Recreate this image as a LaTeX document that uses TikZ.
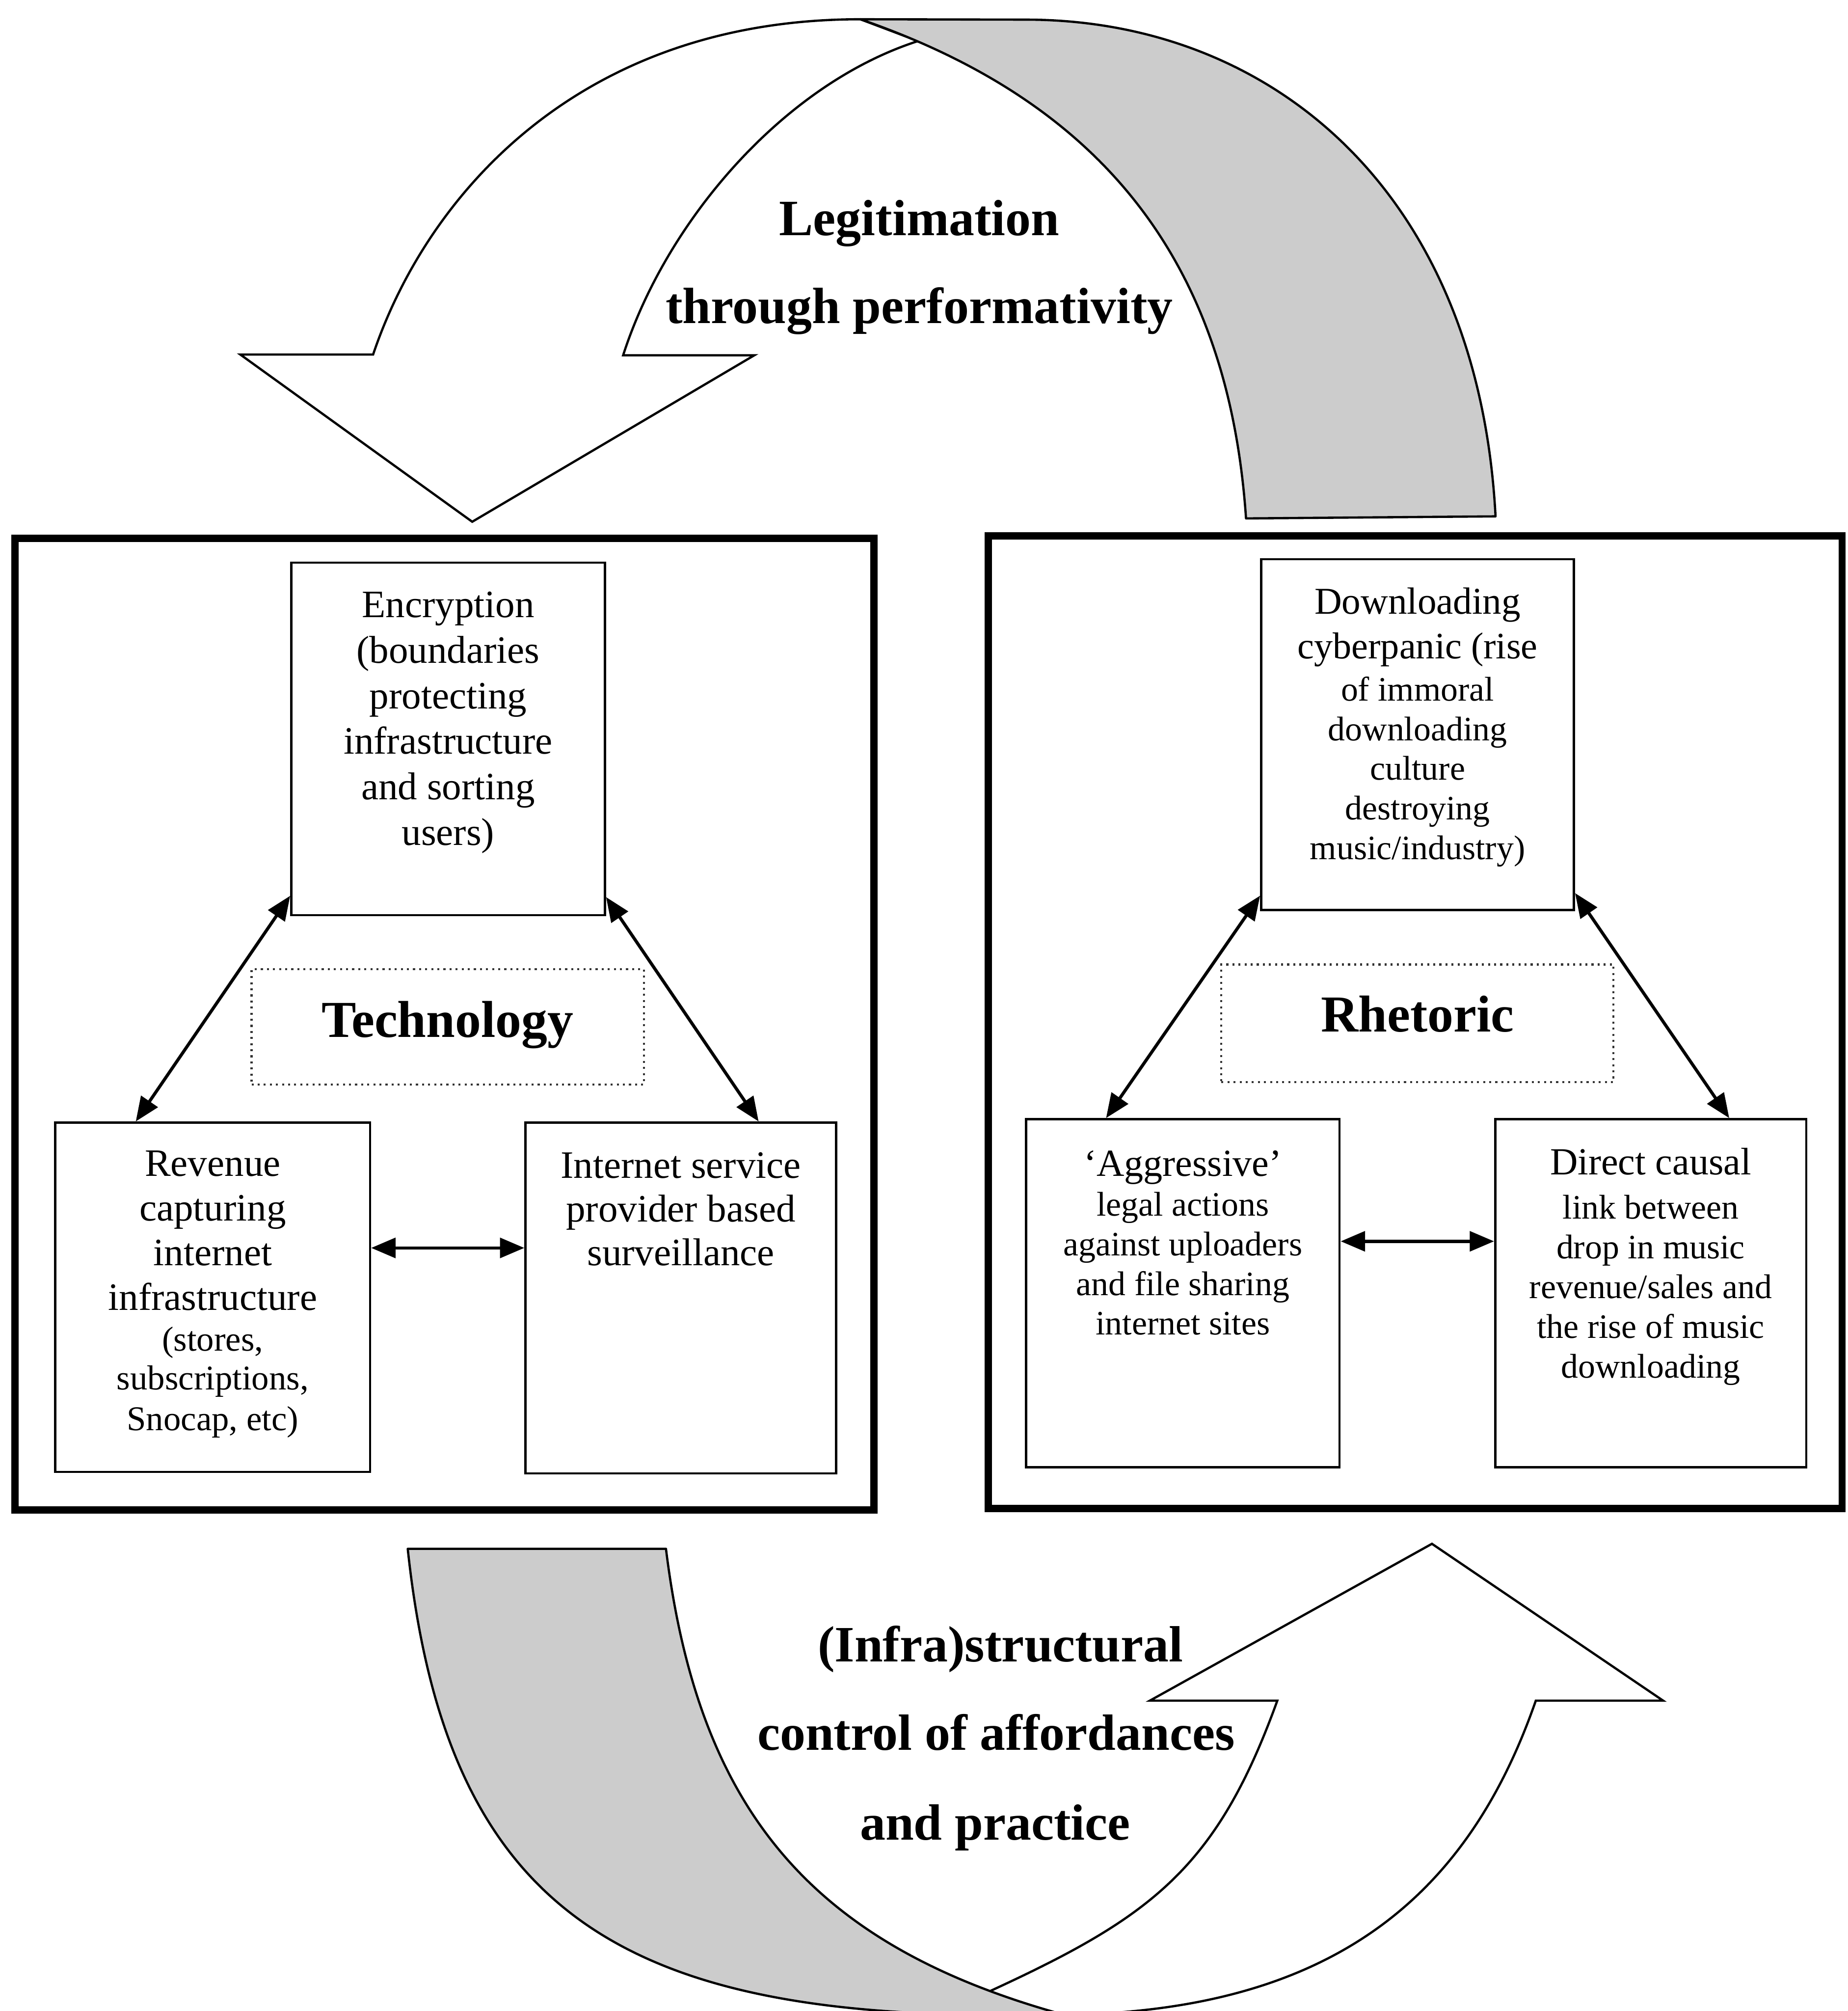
\documentclass[tikz,border=0pt]{standalone}
\usepackage{fontspec}
\setmainfont{Liberation Serif}
\usetikzlibrary{arrows.meta,calc}
\definecolor{bandgrey}{gray}{0.80}
\begin{document}
\begin{tikzpicture}[x=0.01cm,y=-0.01cm,
  panel/.style={draw, line width=1.6pt, rectangle, inner sep=0pt},
  box/.style={draw, line width=0.5pt, rectangle, inner sep=0pt},
  dotbox/.style={draw=black!80, line width=0.45pt, dash pattern=on 0.45pt off 0.9pt, rectangle, inner sep=0pt},
  txtL/.style={align=center, inner sep=0pt, anchor=north, font=\fontsize{8.6}{10.1}\selectfont},
  txtR/.style={align=center, inner sep=0pt, anchor=north, font=\fontsize{7.6}{8.8}\selectfont},
  heading/.style={inner sep=0pt, anchor=base, font=\fontsize{11.5}{13}\selectfont\bfseries},
  arclabel/.style={inner sep=0pt, anchor=base, font=\fontsize{11.3}{13}\selectfont\bfseries},
  conn/.style={line width=0.7pt, {Triangle[length=5.4pt,width=4.4pt]}-{Triangle[length=5.4pt,width=4.4pt]}},
  whitearrow/.style={draw, line width=0.5pt, fill=white, line join=miter},
  band/.style={draw, line width=0.5pt, fill=bandgrey, line join=round}
]
\path[use as bounding box] (0,0) rectangle (1441,1568);
\fill[white] (0,0) rectangle (1441,1568);
\clip (0,0) rectangle (1441,1568);

% ---------- top curved arrow ----------
\filldraw[whitearrow] (187.4,276.4) -- (291,276.4)
  .. controls (332.6,152.9) and (451,15) .. (671,15)
  -- (716,32)
  .. controls (611.3,65.6) and (519.6,172.3) .. (486,277)
  -- (588.3,277) -- (368.3,406.8) -- cycle;
\filldraw[band] (671,15) -- (800,15.3)
  .. controls (990,15.3) and (1152.9,147.6) .. (1166.4,402.6)
  -- (971.8,404.2)
  .. controls (958.2,204.6) and (860,80.2) .. (671,15) -- cycle;
\node[arclabel] (legitA) at (717,183.5) {Legitimation};
\node[arclabel] (legitB) at (717,252) {through performativity};

% ---------- bottom curved arrow ----------
\filldraw[whitearrow] (896.8,1326) -- (996.2,1326)
  .. controls (948.6,1457.6) and (897.4,1494.9) .. (771,1553)
  -- (820,1571)
  .. controls (1040,1571) and (1145,1477.6) .. (1197.8,1326)
  -- (1297.1,1326) -- (1116.8,1203.7) -- cycle;
\filldraw[band] (519.4,1207.6) -- (318,1207.6)
  .. controls (347.7,1485.9) and (480,1571) .. (780,1571)
  -- (830,1571)
  .. controls (632.2,1516.6) and (544.6,1411) .. (519.4,1207.6) -- cycle;
\node[arclabel] (infraA) at (780.2,1295.5) {(Infra)structural};
\node[arclabel] (infraB) at (776.9,1364.5) {control of affordances};
\node[arclabel] (infraC) at (776.2,1434.7) {and practice};

% ---------- panels ----------
\node[panel, minimum width=6.695cm, minimum height=7.57cm] (techpanel) at (346.75,798.5) {};
\node[panel, minimum width=6.655cm, minimum height=7.58cm] (rhetpanel) at (1103.75,797) {};

% ---------- technology side ----------
\node[box, minimum width=2.445cm, minimum height=2.748cm] (enc) at (349.5,576.1) {};
\node[box, minimum width=2.453cm, minimum height=2.723cm] (rev) at (165.9,1011.5) {};
\node[box, minimum width=2.422cm, minimum height=2.733cm] (isp) at (531,1012) {};
\node[dotbox, minimum width=3.058cm, minimum height=0.899cm] (tech) at (349.2,800.6) {};
\node[heading] (techT) at (349,808.5) {Technology};

\node[txtL] (encT) at (349.5,456.1) {\rule{0pt}{7pt}Encryption\\(boundaries\\protecting\\infrastructure\\and sorting\\users)};
\node[txtL, font=\fontsize{8.6}{9.9}\selectfont] (revT) at (165.9,891.7) {\rule{0pt}{7pt}Revenue\\capturing\\internet\\infrastructure\\[-0.9pt]{\fontsize{7.7}{8.9}\selectfont (stores,}\\[-1.2pt]{\fontsize{7.7}{8.9}\selectfont subscriptions,}\\[-0.9pt]{\fontsize{7.7}{8.9}\selectfont Snocap, etc)}};
\node[txtL, font=\fontsize{8.6}{9.7}\selectfont] (ispT) at (531,893.3) {\rule{0pt}{7pt}Internet service\\provider based\\surveillance};

\draw[conn] ($(enc.south west)+(0,-16)$) -- ($(rev.north west)+(63.6,0)$);
\draw[conn] ($(enc.south east)+(0,-15)$) -- ($(isp.north east)+(-61.4,0)$);
\coordinate (hL) at ($(rev.east)+(0,-38.5)$);
\draw[conn] (hL) -- (hL -| isp.west);

% ---------- rhetoric side ----------
\node[box, minimum width=2.438cm, minimum height=2.733cm] (dl) at (1105.6,572.75) {};
\node[box, minimum width=2.443cm, minimum height=2.713cm] (agg) at (922.55,1008.35) {};
\node[box, minimum width=2.424cm, minimum height=2.713cm] (dc) at (1287.4,1008.35) {};
\node[dotbox, minimum width=3.057cm, minimum height=0.915cm] (rhet) at (1105.5,797.8) {};
\node[heading] (rhetT) at (1105.6,804.4) {Rhetoric};

\node[txtR] (dlT) at (1105.6,453.5) {\rule{0pt}{7pt}{\fontsize{8.4}{8.8}\selectfont Downloading}\\[1.1pt]{\fontsize{8.3}{8.8}\selectfont cyberpanic (rise}\\[0.5pt]of immoral\\downloading\\culture\\destroying\\music/industry)};
\node[txtR] (aggT) at (922.55,891.7) {\rule{0pt}{7pt}{\fontsize{8.5}{8.8}\selectfont ‘Aggressive’}\\legal actions\\against uploaders\\and file sharing\\internet sites};
\node[txtR] (dcT) at (1287.4,890.7) {\rule{0pt}{7pt}{\fontsize{8.5}{8.8}\selectfont Direct causal}\\[1pt]link between\\drop in music\\revenue/sales and\\the rise of music\\downloading};

\draw[conn] ($(dl.south west)+(0,-12)$) -- ($(agg.north west)+(63.2,0)$);
\draw[conn] ($(dl.south east)+(0,-14)$) -- ($(dc.north east)+(-60.9,0)$);
\coordinate (hR) at ($(agg.east)+(0,-40.5)$);
\draw[conn] (hR) -- (hR -| dc.west);
\end{tikzpicture}
\end{document}
